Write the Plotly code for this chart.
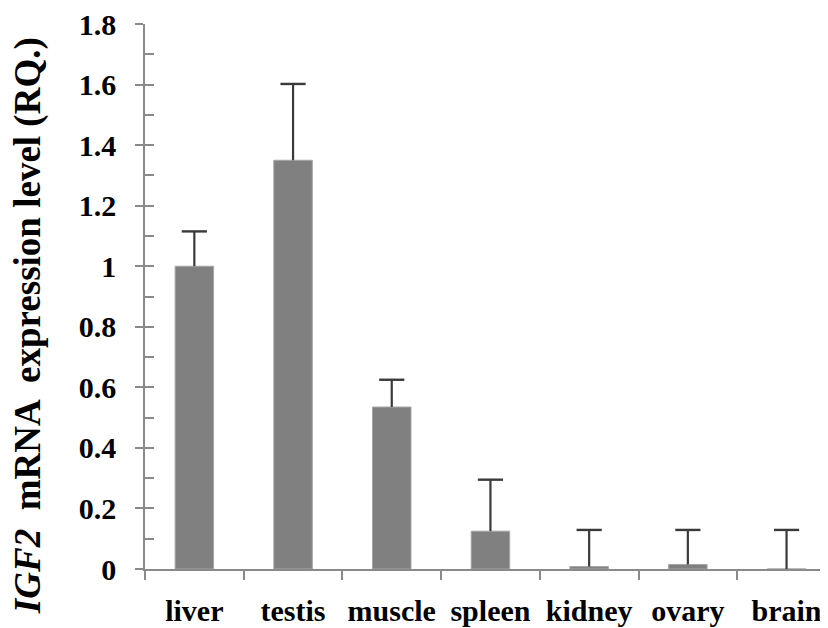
import plotly.graph_objects as go

categories = ["liver", "testis", "muscle", "spleen", "kidney", "ovary", "brain"]
values = [1.0, 1.35, 0.535, 0.125, 0.008, 0.015, 0.0]
errors = [0.115, 0.252, 0.09, 0.17, 0.121, 0.114, 0.129]
y_ticks = [0, 0.2, 0.4, 0.6, 0.8, 1, 1.2, 1.4, 1.6, 1.8]
y_ticktext = ["0", "0.2", "0.4", "0.6", "0.8", "1", "1.2", "1.4", "1.6", "1.8"]

font_family = "Liberation Serif, Times New Roman, serif"
axis_color = "#8a8a8a"
err_color = "#3a3a3a"

tops = [v + e for v, e in zip(values, errors)]

# error stems (from bar top up to value + error), built from the data
stem_x, stem_y = [], []
for c, v, t in zip(categories, values, tops):
    stem_x += [c, c, None]
    stem_y += [v, t, None]

fig = go.Figure()
fig.add_trace(go.Bar(
    x=categories, y=values, width=0.39,
    marker=dict(color="#808080", line=dict(color="#a6a6a6", width=1)),
    showlegend=False, hoverinfo="x+y",
))
fig.add_trace(go.Scatter(
    x=stem_x, y=stem_y, mode="lines",
    line=dict(color=err_color, width=2.2), showlegend=False, hoverinfo="skip",
))
fig.add_trace(go.Scatter(
    x=categories, y=tops, mode="markers",
    marker=dict(symbol="line-ew", size=18, line=dict(color=err_color, width=2.4)),
    showlegend=False, hoverinfo="skip",
))
# invisible trace to carry the overlay axis with inside minor ticks
fig.add_trace(go.Scatter(x=[categories[0]], y=[0], yaxis="y2", mode="markers",
                         marker=dict(opacity=0), showlegend=False, hoverinfo="skip"))

fig.update_layout(
    width=820, height=620,
    margin=dict(l=137, r=0, t=16, b=59, autoexpand=False),
    paper_bgcolor="white", plot_bgcolor="white",
    bargap=0.6,
    xaxis=dict(
        type="category", range=[-0.5, 6.42], automargin=False,
        tickson="boundaries", ticks="outside", ticklen=9, tickwidth=1.5,
        tickcolor=axis_color, showline=True, linecolor=axis_color, linewidth=1.5,
        showgrid=False, zeroline=False, tickangle=0, ticklabeloverflow="allow",
        tickfont=dict(family=font_family, size=30, color="black", weight="bold"),
        ticklabelstandoff=14,
    ),
    yaxis=dict(
        range=[0, 1.8], tickmode="array", tickvals=y_ticks, ticktext=y_ticktext,
        automargin=False, ticklabeloverflow="allow",
        ticks="outside", ticklen=8, tickwidth=1.5, tickcolor=axis_color,
        showline=True, linecolor=axis_color, linewidth=1.5,
        showgrid=False, zeroline=False,
        tickfont=dict(family=font_family, size=30, color="black", weight="bold"),
        ticklabelstandoff=13,
    ),
    yaxis2=dict(
        overlaying="y", side="left", range=[0, 1.8], dtick=0.1, tick0=0,
        automargin=False,
        ticks="inside", ticklen=9, tickwidth=1.5, tickcolor=axis_color,
        showticklabels=False, showline=False, showgrid=False, zeroline=False,
    ),
    annotations=[dict(
        text="<b><i>IGF2</i>  mRNA  expression level (RQ.)</b>",
        xref="paper", yref="paper", x=-0.171, y=0.446,
        textangle=-90, showarrow=False, xanchor="center", yanchor="middle",
        font=dict(family=font_family, size=37, color="black"),
    )],
)

fig.write_html("out.html")
